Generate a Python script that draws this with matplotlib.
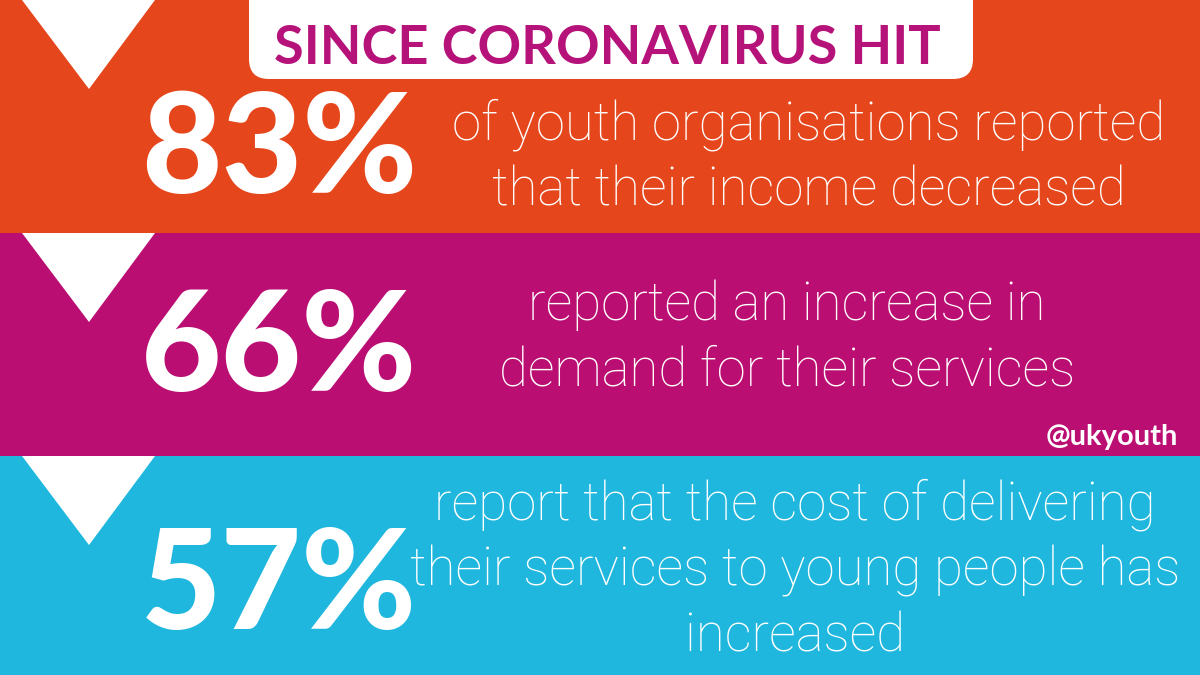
import matplotlib
matplotlib.use("Agg")
import matplotlib.pyplot as plt
from matplotlib.patches import Rectangle, Polygon, FancyBboxPatch

# --- content ---
title = "SINCE CORONAVIRUS HIT"
percentages = ["83%", "66%", "57%"]
descriptions = [
    ["of youth organisations reported", "that their income decreased"],
    ["reported an increase in", "demand for their services"],
    ["report that the cost of delivering", "their services to young people has", "increased"],
]
handle = "@ukyouth"

# --- layout / style ---
W, H = 1200, 675
band_edges = [0, 233, 456, 675]
band_colors = ["#E5461B", "#BA0E73", "#20B7DE"]
title_color = "#B5127A"
pct_y = [152, 350, 588]
desc_x = [809, 787, 795]
desc_y0 = [125, 305, 505]
line_gap = 66

fig = plt.figure(figsize=(12, 6.75), dpi=100)
ax = fig.add_axes([0, 0, 1, 1])
ax.set_xlim(0, W)
ax.set_ylim(H, 0)
ax.axis("off")

for i, col in enumerate(band_colors):
    top, bot = band_edges[i], band_edges[i + 1]
    ax.add_patch(Rectangle((0, top), W, bot - top, color=col, lw=0))
    ax.add_patch(Polygon([(22, top), (155, top), (89, top + 89)],
                         closed=True, color="white", lw=0))

# title box with rounded bottom corners (top runs off the canvas)
ax.add_patch(FancyBboxPatch((268, -40), 686, 100,
                            boxstyle="round,pad=19,rounding_size=20",
                            color="white", lw=0))
ax.text(607, 49, title, color=title_color, fontsize=39, fontweight="bold",
        family="Lato", ha="center", va="center")

for i in range(3):
    ax.text(141, pct_y[i], percentages[i], color="white", fontsize=100,
            fontweight="black", family="Lato", ha="left", va="center")
    for j, line in enumerate(descriptions[i]):
        ax.text(desc_x[i], desc_y0[i] + j * line_gap, line, color="white",
                fontsize=38, fontweight="light", family="Roboto",
                ha="center", va="center")

ax.text(1178, 437, handle, color="white", fontsize=21, fontweight="bold",
        family="Lato", ha="right", va="center")

fig.savefig("out.png", dpi=100)
